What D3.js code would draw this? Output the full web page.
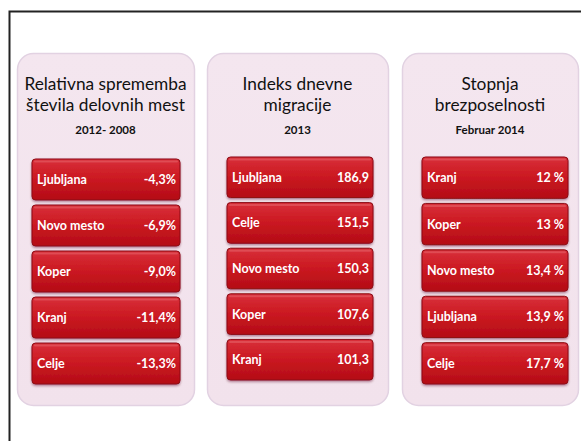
<!DOCTYPE html>
<html><head><meta charset="utf-8">
<script src="https://cdn.jsdelivr.net/npm/d3@7"></script>
<style>body{margin:0;background:#fff}svg{display:block}</style>
</head><body>
<script>
const titles = [["Relativna sprememba","števila delovnih mest"],["Indeks dnevne","migracije"],["Stopnja","brezposelnosti"]];
const subtitles = ["2012- 2008","2013","Februar 2014"];
const cities1 = ["Ljubljana","Novo mesto","Koper","Kranj","Celje"];
const values1 = [-4.3,-6.9,-9.0,-11.4,-13.3];
const cities2 = ["Ljubljana","Celje","Novo mesto","Koper","Kranj"];
const values2 = [186.9,151.5,150.3,107.6,101.3];
const cities3 = ["Kranj","Koper","Novo mesto","Ljubljana","Celje"];
const values3 = [12,13,13.4,13.9,17.7];

const loc = d3.formatLocale({decimal:",", thousands:".", grouping:[3], currency:["","€"], minus:"-"});
const f1 = loc.format(".1f");
const fmt1 = v => f1(v)+"%";
const fmt2 = v => f1(v);
const fmt3 = v => (Number.isInteger(v) ? String(v) : f1(v)) + " %";

const panels = [
  {cats:cities1, vals:values1, fmt:fmt1, px:17, pw:177, bx:32, bw:148, by:[159,384]},
  {cats:cities2, vals:values2, fmt:fmt2, px:207, pw:181, bx:227, bw:146, by:[157,380]},
  {cats:cities3, vals:values3, fmt:fmt3, px:402, pw:176, bx:422, bw:146, by:[157,384]}
];

const W=581,H=441;
const svg = d3.select("body").append("svg").attr("width",W).attr("height",H);
const defs = svg.append("defs");
const g1 = defs.append("linearGradient").attr("id","barg").attr("x1",0).attr("y1",0).attr("x2",0).attr("y2",1);
g1.append("stop").attr("offset","0").attr("stop-color","#d8303a");
g1.append("stop").attr("offset","0.45").attr("stop-color","#cc1a22");
g1.append("stop").attr("offset","1").attr("stop-color","#b40c16");
const pg = defs.append("linearGradient").attr("id","pang").attr("x1",0).attr("y1",0).attr("x2",0).attr("y2",1);
pg.append("stop").attr("offset","0").attr("stop-color","#f4e6ef");
pg.append("stop").attr("offset","1").attr("stop-color","#f2e2ec");
const f = defs.append("filter").attr("id","sh").attr("x","-10%").attr("y","-10%").attr("width","120%").attr("height","140%");
f.append("feDropShadow").attr("dx",0).attr("dy",1.5).attr("stdDeviation",1.2).attr("flood-color","#5a1020").attr("flood-opacity",0.45);

// frame
svg.append("rect").attr("x",9.5).attr("y",11.5).attr("width",W).attr("height",H).attr("fill","none").attr("stroke","#222").attr("stroke-width",2);

const font = "Lato, sans-serif";
panels.forEach((p,i)=>{
  const g = svg.append("g");
  g.append("rect").attr("x",p.px+0.5).attr("y",53.5).attr("width",p.pw).attr("height",352).attr("rx",16)
    .attr("fill","url(#pang)").attr("stroke","#e2d2e2").attr("stroke-width",1.5);
  const cx = p.px + p.pw/2;
  titles[i].forEach((t,j)=>{
    g.append("text").attr("x",cx).attr("y",90+j*21).attr("text-anchor","middle")
      .attr("font-family",font).attr("font-size",17.3).attr("fill","#111").text(t);
  });
  g.append("text").attr("x",cx).attr("y",134).attr("text-anchor","middle")
    .attr("font-family",font).attr("font-size",11.5).attr("font-weight",700).attr("fill","#111").text(subtitles[i]);
  const y = d3.scaleBand().domain(p.cats).range(p.by).paddingInner(0.11);
  const bars = g.selectAll("g.bar").data(p.cats.map((c,k)=>({c,v:p.vals[k]}))).join("g").attr("class","bar")
    .attr("transform",d=>`translate(0,${y(d.c)})`);
  bars.append("rect").attr("x",p.bx).attr("y",0).attr("width",p.bw).attr("height",y.bandwidth()).attr("rx",3.5)
    .attr("fill","url(#barg)").attr("stroke","#8c0a12").attr("stroke-width",1).attr("filter","url(#sh)");
  bars.append("rect").attr("x",p.bx+2).attr("y",1.5).attr("width",p.bw-4).attr("height",2).attr("rx",1)
    .attr("fill","#e86a70").attr("opacity",0.5);
  bars.append("text").attr("x",p.bx+5).attr("y",y.bandwidth()/2+4.5)
    .attr("font-family",font).attr("font-size",12.5).attr("font-weight",700).attr("fill","#fff").text(d=>d.c);
  bars.append("text").attr("x",p.bx+p.bw-4).attr("y",y.bandwidth()/2+4.5).attr("text-anchor","end")
    .attr("font-family",font).attr("font-size",12.5).attr("font-weight",700).attr("fill","#fff").text(d=>p.fmt(d.v));
});
</script>
</body></html>
